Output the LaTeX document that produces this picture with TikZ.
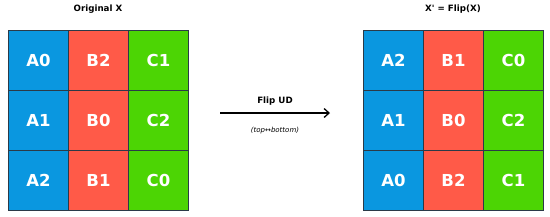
\documentclass[tikz,border=0pt]{standalone}
\usepackage{fontspec}
\setmainfont{DejaVu Sans}
\newfontfamily\dvs{DejaVu Sans}
\usetikzlibrary{arrows.meta}
\definecolor{cblue}{HTML}{0A97E0}
\definecolor{cred}{HTML}{FF5A48}
\definecolor{cgreen}{HTML}{4CD504}
\definecolor{cedge}{HTML}{2B3A48}
\begin{document}
\begin{tikzpicture}[x=1pt,y=-1pt,
  cell/.style={draw=cedge,line width=1pt,minimum width=60pt,minimum height=60pt,inner sep=0pt,
    text height=12pt,text depth=0pt,
    text=white,font=\dvs\fontsize{16.5}{17}\selectfont\bfseries,anchor=north west},
  A/.style={cell,fill=cblue},
  B/.style={cell,fill=cred},
  C/.style={cell,fill=cgreen},
  ttl/.style={font=\dvs\fontsize{8.7}{9}\selectfont\bfseries},
  note/.style={font=\dvs\fontsize{7}{8}\selectfont\itshape}]
\useasboundingbox (0,0) rectangle (550,217);
% left grid
\node[A] (l00) at (8,30) {A0};
\node[B] (l01) at (68,30) {B2};
\node[C] (l02) at (128,30) {C1};
\node[A] (l10) at (8,90) {A1};
\node[B] (l11) at (68,90) {B0};
\node[C] (l12) at (128,90) {C2};
\node[A] (l20) at (8,150) {A2};
\node[B] (l21) at (68,150) {B1};
\node[C] (l22) at (128,150) {C0};
% right grid
\node[A] (r00) at (363,30) {A2};
\node[B] (r01) at (423,30) {B1};
\node[C] (r02) at (483,30) {C0};
\node[A] (r10) at (363,90) {A1};
\node[B] (r11) at (423,90) {B0};
\node[C] (r12) at (483,90) {C2};
\node[A] (r20) at (363,150) {A0};
\node[B] (r21) at (423,150) {B2};
\node[C] (r22) at (483,150) {C1};
% titles
\node[ttl] (tl) at (98,9) {Original X};
\node[ttl] (tr) at (453,9) {X' = Flip(X)};
% arrow
\coordinate (as) at (220,113);
\coordinate (ae) at (330,113);
\draw[line width=1.3pt,-{Straight Barb[length=5pt,width=9pt]}] (as) -- (ae);
\node[ttl] (fl) at (275,101) {Flip UD};
\node[note] (nt) at (275,131) {(top↔bottom)};
\end{tikzpicture}
\end{document}
